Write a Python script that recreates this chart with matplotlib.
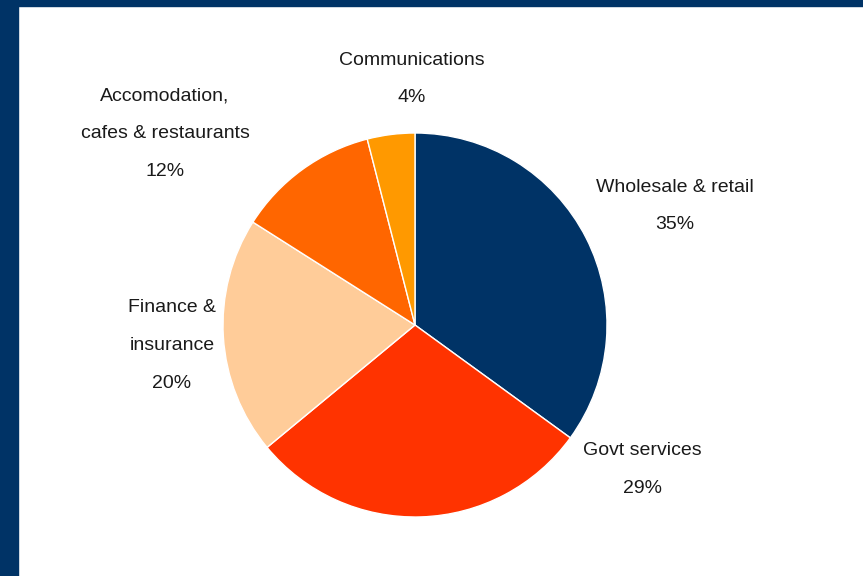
import matplotlib
matplotlib.use("Agg")
import matplotlib.pyplot as plt
from matplotlib.patches import Rectangle

# sector shares (%)
sectors = ["Wholesale & retail", "Govt services", "Finance &\ninsurance",
           "Accomodation,\ncafes & restaurants", "Communications"]
shares = [35, 29, 20, 12, 4]
colours = ["#003366", "#FF3300", "#FFCC99", "#FF6600", "#FF9900"]

# centre of the first label line, in units of pie radius
label_xy = [(1.354, 0.717), (1.185, -0.656), (-1.266, 0.089), (-1.302, 1.193), (-0.016, 1.380)]
line_step = 0.196

W, H = 863, 576
cx, cy, R = 415, 251, 192

plt.rcParams["font.family"] = ["Liberation Sans Narrow", "Liberation Sans", "DejaVu Sans"]

fig = plt.figure(figsize=(W / 100, H / 100), dpi=100)
fig.patch.set_facecolor("white")
ax = fig.add_axes([0, 0, 1, 1])

ax.pie(shares, colors=colours, startangle=90, counterclock=False, radius=1,
       wedgeprops=dict(edgecolor="white", linewidth=1))

ax.set_xlim(-cx / R, (W - cx) / R)
ax.set_ylim(-cy / R, (H - cy) / R)
ax.set_aspect("equal")
ax.axis("off")

for name, val, (x, y) in zip(sectors, shares, label_xy):
    lines = name.split("\n") + [f"{val}%"]
    for i, line in enumerate(lines):
        ax.text(x, y - i * line_step, line, ha="center", va="center",
                fontsize=14, color="#1a1a1a")

# navy frame along the left and top
fig.patches.append(Rectangle((0, 0), 18 / W, 1, transform=fig.transFigure,
                             color="#003366", zorder=10))
fig.patches.append(Rectangle((0, 1 - 6 / H), 1, 6 / H, transform=fig.transFigure,
                             color="#003366", zorder=10))

fig.savefig("out.png", dpi=100)
